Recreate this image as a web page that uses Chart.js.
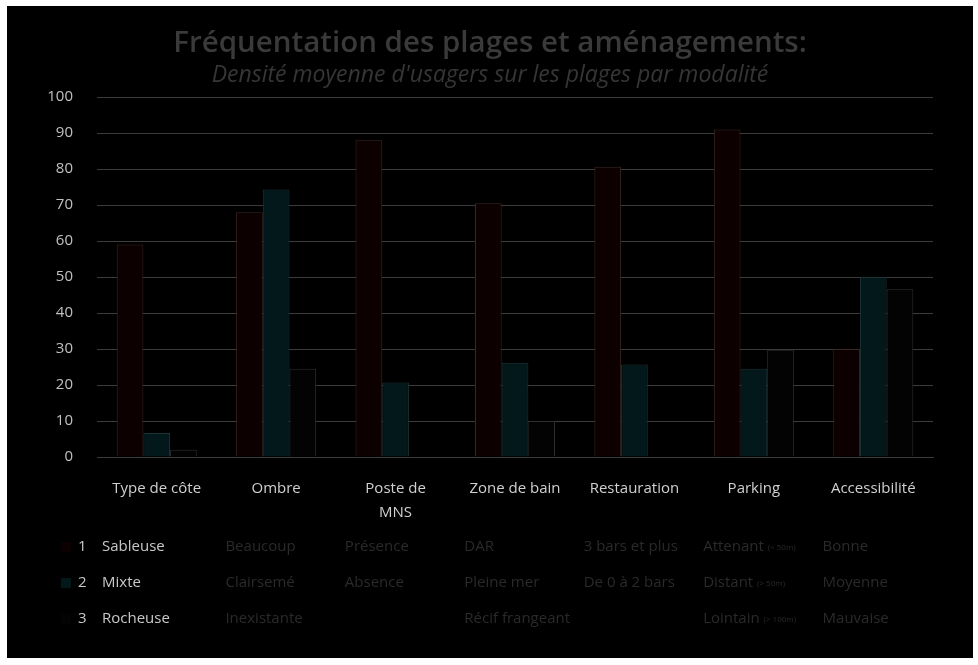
<!DOCTYPE html>
<html>
<head>
<meta charset="utf-8">
<script src="https://cdn.jsdelivr.net/npm/chart.js@4"></script>
<style>
  html, body { margin: 0; padding: 0; background: #ffffff; }
  #frame { position: absolute; left: 7px; top: 6px; width: 966px; height: 652px; background: #000000; }
</style>
</head>
<body>
<div id="frame"><canvas id="canvas_plot"></canvas></div>
<script>
// categories + values
var categories = [['Type de côte'], ['Ombre'], ['Poste de', 'MNS'], ['Zone de bain'], ['Restauration'], ['Parking'], ['Accessibilité']]
var sableuse = [59, 68, 88, 70.5, 80.6, 91, 30]
var mixte = [6.7, 74.3, 20.7, 26.2, 25.7, 24.5, 50]
var rocheuse = [2, 24.5, 0, 10, 0, 29.8, 46.6]
var yTicks = [0, 10, 20, 30, 40, 50, 60, 70, 80, 90, 100]

// legend rows (number + name shown in first column)
var seriesNums = ['1', '2', '3']
var seriesNames = ['Sableuse', 'Mixte', 'Rocheuse']

// modality table under each category (first column = series names)
var modalities = [
    seriesNames,
    ['Beaucoup', 'Clairsemé', 'Inexistante'],
    ['Présence', 'Absence', ''],
    ['DAR', 'Pleine mer', 'Récif frangeant'],
    ['3 bars et plus', 'De 0 à 2 bars', ''],
    ['Attenant', 'Distant', 'Lointain'],
    ['Bonne', 'Moyenne', 'Mauvaise']
]
var modalitySuffix = [
    ['', '', ''], ['', '', ''], ['', '', ''], ['', '', ''], ['', '', ''],
    ['(< 50m)', '(> 50m)', '(> 100m)'],
    ['', '', '']
]

var fills = ['#0d0000', '#02181a', '#030303']
var borders = ['#3a2622', '#1f3234', '#2e2e2e']

var FONT = "'Open Sans', 'DejaVu Sans', sans-serif"

//draws the table with legend keys and modalities below the x axis
var tablePlugin = {
    id: 'modalityTable',
    afterDraw: function (chart) {
        var ctx = chart.ctx
        var xs = chart.scales.x
        var rowY = [541, 577, 613]
        ctx.save()
        ctx.textBaseline = 'middle'
        // legend keys
        for (var r = 0; r < 3; r++) {
            ctx.fillStyle = fills[r]
            ctx.fillRect(54, rowY[r] - 5, 10, 10)
            ctx.fillStyle = '#c8c8c8'
            ctx.font = '15px ' + FONT
            ctx.textAlign = 'left'
            ctx.fillText(seriesNums[r], 71, rowY[r])
        }
        var half = (xs.getPixelForValue(1) - xs.getPixelForValue(0)) / 2
        for (var c = 0; c < modalities.length; c++) {
            var left = xs.getPixelForValue(c) - half
            for (var r = 0; r < 3; r++) {
                var txt = modalities[c][r]
                if (!txt) continue
                var x0 = left + (c === 0 ? 5 : 9)
                ctx.font = '15px ' + FONT
                ctx.fillStyle = c === 0 ? '#c8c8c8' : '#2a2a2a'
                ctx.fillText(txt, x0, rowY[r])
                if (modalitySuffix[c][r]) {
                    var w = ctx.measureText(txt + ' ').width
                    ctx.font = '8px ' + FONT
                    ctx.fillText(modalitySuffix[c][r], x0 + w, rowY[r] + 1)
                }
            }
        }
        ctx.restore()
    }
}

var data_bars = {
    labels: categories,
    datasets: [
        { label: 'Sableuse', data: sableuse, backgroundColor: fills[0], borderColor: borders[0], borderWidth: 1 },
        { label: 'Mixte', data: mixte, backgroundColor: fills[1], borderColor: borders[1], borderWidth: 1 },
        { label: 'Rocheuse', data: rocheuse, backgroundColor: fills[2], borderColor: borders[2], borderWidth: 1 }
    ]
}

var config_bars = {
    type: 'bar',
    data: data_bars,
    options: {
        responsive: true,
        maintainAspectRatio: false,
        animation: false,
        layout: { padding: 0 },
        datasets: { bar: { categoryPercentage: 0.67, barPercentage: 1.0 } },
        plugins: {
            legend: { display: false },
            tooltip: { enabled: false },
            title: {
                display: true,
                text: 'Fréquentation des plages et aménagements:',
                color: '#3a3a3a',
                font: { family: FONT, size: 29.5, weight: '600' },
                padding: { top: 20, bottom: 0 }
            },
            subtitle: {
                display: true,
                text: "Densité moyenne d'usagers sur les plages par modalité",
                color: '#363636',
                font: { family: FONT, size: 23, style: 'italic' },
                padding: { top: 0, bottom: 8 }
            }
        },
        scales: {
            x: {
                grid: { display: false },
                border: { display: true, color: '#3c3c3c' },
                ticks: { color: '#d0d0d0', font: { family: FONT, size: 15, lineHeight: 1.6 }, padding: 12, maxRotation: 0, autoSkip: false },
                afterFit: function (s) { s.height = 201 }
            },
            y: {
                min: 0,
                max: 100,
                afterBuildTicks: function (s) { s.ticks = yTicks.map(function (v) { return { value: v } }) },
                grid: { color: '#3c3c3c', drawTicks: false, lineWidth: 1 },
                border: { display: false },
                ticks: { color: '#c0c0c0', font: { family: FONT, size: 15 }, padding: 24 },
                afterFit: function (s) { s.width = 90 }
            },
            // empty right margin so the title stays centred on the frame
            yRight: {
                position: 'right',
                min: 0,
                max: 100,
                grid: { display: false, drawTicks: false },
                border: { display: false },
                ticks: { display: false },
                afterFit: function (s) { s.width = 40 }
            }
        }
    },
    plugins: [tablePlugin]
}

var barchart = new Chart(document.getElementById('canvas_plot'), config_bars)
</script>
</body>
</html>
